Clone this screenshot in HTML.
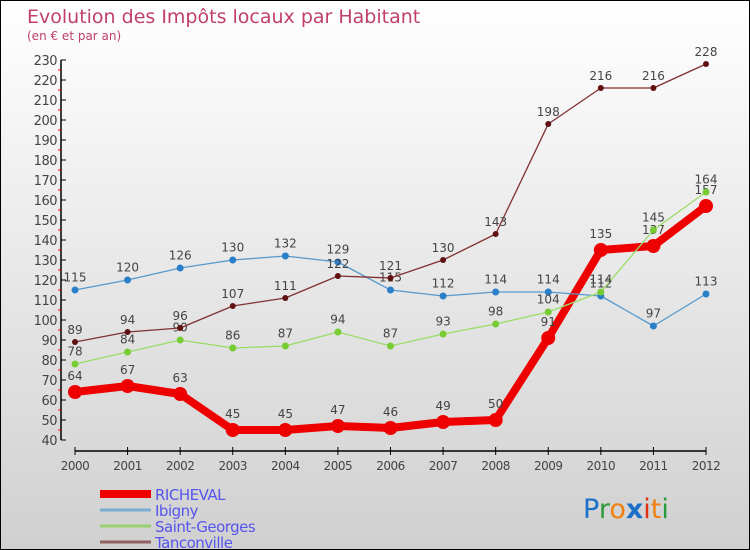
<!DOCTYPE html>
<html><head><meta charset="utf-8"><style>
body{margin:0}
#c{width:750px;height:550px;position:relative;overflow:hidden;box-sizing:border-box;border:1px solid #000;background:linear-gradient(#fff,#d0d0d0);font-family:"DejaVu Sans","Liberation Sans",sans-serif}
</style></head><body>
<div id="c">
<svg id="s" width="750" height="550" style="position:absolute;left:-1px;top:0px">
<text x="27" y="22" font-size="19" fill="#c0406a">Evolution des Impôts locaux par Habitant</text>
<text x="27" y="39" font-size="12" fill="#c0406a">(en € et par an)</text>
<text x="583" y="517" font-size="27"><tspan fill="#1a70c8">P</tspan><tspan fill="#2a9a3a">r</tspan><tspan fill="#f08010">o</tspan><tspan fill="#1a70c8" font-weight="bold">x</tspan><tspan fill="#e03010">i</tspan><tspan fill="#f08010">t</tspan><tspan fill="#2a9a3a">i</tspan></text>
</svg>
</div>
<script>
const years=[2000,2001,2002,2003,2004,2005,2006,2007,2008,2009,2010,2011,2012];
const richeval=[64,67,63,45,45,47,46,49,50,91,135,137,157];
const ibigny=[115,120,126,130,132,129,115,112,114,114,112,97,113];
const saintGeorges=[78,84,90,86,87,94,87,93,98,104,114,145,164];
const tanconville=[89,94,96,107,111,122,121,130,143,198,216,216,228];
const yTicks=[40,50,60,70,80,90,100,110,120,130,140,150,160,170,180,190,200,210,220,230];
const seriesNames=["RICHEVAL","Ibigny","Saint-Georges","Tanconville"];
const NS="http://www.w3.org/2000/svg",svg=document.getElementById('s');
const X=i=>75+i*(706-75)/(years.length-1);
const Y=v=>439-(v-40)*2;
function el(t,a,p){const e=document.createElementNS(NS,t);for(const k in a)e.setAttribute(k,a[k]);(p||svg).appendChild(e);return e;}
let ax=el('line',{x1:61,y1:Y(230),x2:61,y2:Y(40),stroke:'#000','stroke-width':1.5});

let xa=el('line',{x1:75,y1:450,x2:706,y2:450,stroke:'#000','stroke-width':1.5});

yTicks.forEach((v,i)=>{
 el('line',{x1:61,y1:Y(v),x2:66,y2:Y(v),stroke:'#000'});
 if(i<yTicks.length-1)el('line',{x1:58,y1:Y(v+5),x2:61,y2:Y(v+5),stroke:'#e00'});
 const t=el('text',{x:57,y:Y(v)+5,'text-anchor':'end','font-size':13,fill:'#444','letter-spacing':'-0.5'});
 t.textContent=v;
 
});
years.forEach((y,i)=>{
 el('line',{x1:X(i),y1:446,x2:X(i),y2:454,stroke:'#000'});
 const t=el('text',{x:X(i),y:469,'text-anchor':'middle','font-size':12,fill:'#444','letter-spacing':'-0.5'});
 t.textContent=y;
 
});
function series(data,color,fill,w,r,name){
 const g=el('g',{});
 
 el('polyline',{points:data.map((v,i)=>X(i)+','+Y(v)).join(' '),fill:'none',stroke:color,'stroke-width':w,'stroke-linejoin':'round'},g);
 data.forEach((v,i)=>{
  const c=el('circle',{cx:X(i),cy:Y(v),r:r,fill:fill},g);
  
  const t=el('text',{x:X(i),y:Y(v)-(r+5),'text-anchor':'middle','font-size':12,fill:'#444'},g);
  t.textContent=v;
  
 });
}
series(richeval,'#e00','#e00',8,7,'richeval-series');
series(ibigny,'#5599cc','#2a80c8',1.3,3.5,'ibigny-series');
series(saintGeorges,'#99dd66','#77cc33',1.3,3.5,'saint-georges-series');
series(tanconville,'#803030','#601010',1.3,3,'tanconville-series');
const lc=['#e00','#7aaed0','#99d070','#906060'],lw=[8,3,3,3];
seriesNames.forEach((n,i)=>{
 const y=493+i*16;
 const l=el('line',{x1:100,y1:y,x2:151,y2:y,stroke:lc[i],'stroke-width':lw[i]});
 
 const t=el('text',{x:155,y:y+6,'font-size':15,fill:'#5555ee','letter-spacing':'-0.5'});
 t.textContent=n;
 
});
</script>
</body></html>
